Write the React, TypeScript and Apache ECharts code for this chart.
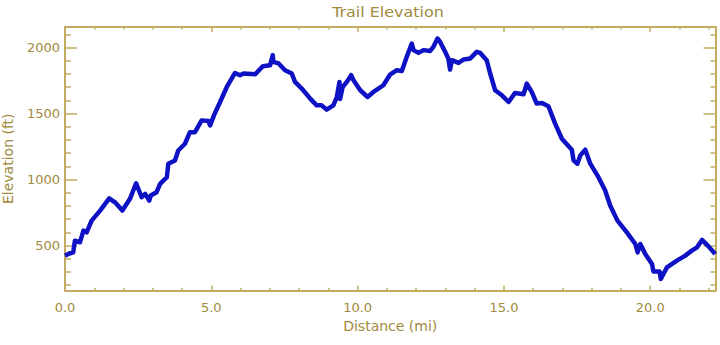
import React, { useEffect, useRef } from "react";
import * as echarts from "echarts";

const distance = [
  0.0, 0.15, 0.28, 0.34, 0.51, 0.63, 0.74, 0.91, 1.2, 1.51, 1.71, 1.96, 2.22, 2.43, 2.62, 2.74, 2.88, 2.93,
  3.13, 3.25, 3.48, 3.53, 3.76, 3.87, 4.1, 4.27, 4.44, 4.67, 4.9, 4.96, 5.09, 5.3, 5.53, 5.81, 5.98, 6.1,
  6.5, 6.76, 7.01, 7.1, 7.12, 7.3, 7.52, 7.75, 7.86, 8.09, 8.38, 8.6, 8.77, 8.94, 9.17, 9.29, 9.38, 9.4,
  9.49, 9.63, 9.78, 9.86, 10.09, 10.34, 10.54, 10.88, 11.11, 11.34, 11.51, 11.68, 11.85, 11.91, 12.08,
  12.25, 12.48, 12.59, 12.73, 12.82, 12.99, 13.1, 13.16, 13.22, 13.45, 13.62, 13.85, 14.07, 14.19, 14.41,
  14.53, 14.7, 14.93, 15.16, 15.38, 15.67, 15.78, 15.95, 16.12, 16.3, 16.52, 16.75, 16.98, 17.32, 17.38,
  17.51, 17.61, 17.78, 17.95, 18.23, 18.46, 18.63, 18.88, 19.2, 19.49, 19.57, 19.66, 19.83, 20.06, 20.11,
  20.32, 20.36, 20.51, 20.57, 20.91, 21.2, 21.42, 21.6, 21.77, 21.99, 22.22,
];

const elevation = [
  424, 440, 449, 537, 525, 613, 600, 689, 765, 858, 828, 765, 854, 972, 866, 892, 841, 879,
  904, 968, 1018, 1120, 1145, 1220, 1271, 1359, 1359, 1448, 1443, 1410, 1486, 1587, 1701, 1807, 1790, 1803,
  1797, 1858, 1866, 1942, 1891, 1879, 1828, 1803, 1739, 1689, 1613, 1562, 1562, 1529, 1562, 1625, 1739, 1610,
  1701, 1739, 1790, 1752, 1676, 1625, 1663, 1714, 1795, 1828, 1822, 1929, 2030, 1980, 1959,
  1980, 1974, 2005, 2068, 2042, 1967, 1917, 1833, 1904, 1883, 1909, 1917, 1967, 1959, 1904,
  1803, 1676, 1638, 1587, 1656, 1646, 1727, 1663, 1575, 1580, 1555, 1423, 1309, 1226, 1145,
  1120, 1183, 1226, 1120, 1018, 917, 803, 689, 600, 512, 449, 512, 436, 360, 304,
  304, 247, 310, 335, 386, 424, 462, 487, 543, 494, 436,
];

const xMajorTicks = [0, 5, 10, 15, 20];
const xMinorTicks = [1, 2, 3, 4, 6, 7, 8, 9, 11, 12, 13, 14, 16, 17, 18, 19, 21, 22];
const yMajorTicks = [500, 1000, 1500, 2000];
const yMinorTicks = [200, 300, 400, 600, 700, 800, 900, 1100, 1200, 1300, 1400, 1600, 1700, 1800, 1900, 2100];

const X_MIN = 0;
const X_MAX = 22.23;
const Y_MIN = 160;
const Y_MAX = 2155;

const GOLD_LINE = "#c3ab62";
const GOLD_TEXT = "#a08a3c";
const FONT = "DejaVu Sans";

const textStyle = {
  color: GOLD_TEXT,
  fontFamily: FONT,
  fontSize: 13,
  fontWeight: "normal" as const,
};

function makeX(position: "top" | "bottom", ticks: number[], len: number, opts: any = {}) {
  return {
    type: "value",
    position,
    min: X_MIN,
    max: X_MAX,
    axisLine: { show: opts.line ?? false, onZero: false, lineStyle: { color: GOLD_LINE, width: 2 } },
    axisTick: { show: true, inside: true, length: len, customValues: ticks, lineStyle: { color: GOLD_LINE, width: 1.5 } },
    axisLabel: { show: false },
    splitLine: { show: false },
    ...opts.extra,
  };
}

function makeY(position: "left" | "right", ticks: number[], len: number, opts: any = {}) {
  return {
    type: "value",
    position,
    min: Y_MIN,
    max: Y_MAX,
    axisLine: { show: opts.line ?? false, onZero: false, lineStyle: { color: GOLD_LINE, width: 2 } },
    axisTick: { show: true, inside: true, length: len, customValues: ticks, lineStyle: { color: GOLD_LINE, width: 1.5 } },
    axisLabel: { show: false },
    splitLine: { show: false },
    ...opts.extra,
  };
}

export default function App() {
  const ref = useRef<HTMLDivElement>(null);

  useEffect(() => {
    if (!ref.current) return;
    const chart = echarts.init(ref.current, null, { renderer: "svg" });
    const points = distance.map((d, i) => [d, elevation[i]]);

    chart.setOption({
      animation: false,
      backgroundColor: "#ffffff",
      grid: {
        left: 65,
        top: 27,
        width: 650.5,
        height: 263.5,
        containLabel: false,
        outerBoundsMode: "none",
      },
      graphic: [
        {
          type: "text",
          x: 388,
          y: 12.5,
          scaleX: 1.14,
          style: {
            text: "Trail Elevation",
            fill: GOLD_TEXT,
            font: `14px "${FONT}"`,
            textAlign: "center",
            textVerticalAlign: "middle",
          },
        },
      ],
      xAxis: [
        makeX("bottom", xMajorTicks, 5, {
          line: true,
          extra: {
            name: "Distance (mi)",
            nameLocation: "middle",
            nameGap: 28,
            nameTextStyle: { ...textStyle, fontSize: 14 },
            axisLabel: {
              show: true,
              customValues: xMajorTicks,
              margin: 10,
              formatter: (v: number) => v.toFixed(1),
              ...textStyle,
            },
          },
        }),
        makeX("bottom", xMinorTicks, 2.5),
        makeX("top", xMajorTicks, 5, { line: true }),
        makeX("top", xMinorTicks, 2.5),
      ],
      yAxis: [
        makeY("left", yMajorTicks, 12, {
          line: true,
          extra: {
            name: "Elevation (ft)",
            nameLocation: "middle",
            nameGap: 50,
            nameTextStyle: { ...textStyle, fontSize: 14 },
            axisLabel: {
              show: true,
              customValues: yMajorTicks,
              margin: 5,
              formatter: (v: number) => String(v),
              ...textStyle,
            },
          },
        }),
        makeY("left", yMinorTicks, 6),
        makeY("right", yMajorTicks, 12, { line: true }),
        makeY("right", yMinorTicks, 5),
      ],
      series: [
        {
          type: "line",
          xAxisIndex: 0,
          yAxisIndex: 0,
          data: points,
          showSymbol: false,
          symbol: "none",
          lineStyle: { color: "#0f12c4", width: 4.5, join: "round" },
          z: 5,
        },
      ],
    });

    return () => chart.dispose();
  }, []);

  return (
    <div
      ref={ref}
      style={{ position: "absolute", left: 0, top: 0, width: 720, height: 345, background: "#fff" }}
    />
  );
}
